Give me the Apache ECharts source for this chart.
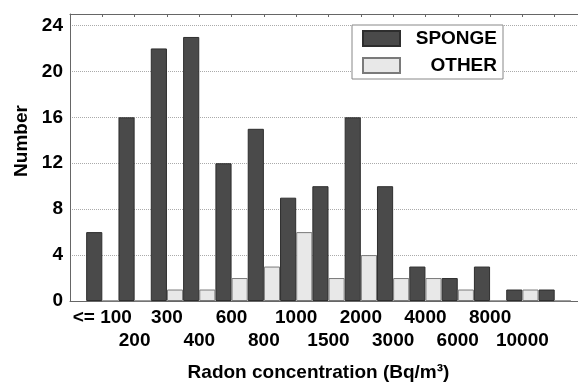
<!DOCTYPE html>
<html>
<head>
<meta charset="utf-8">
<script src="https://cdn.jsdelivr.net/npm/echarts@6/dist/echarts.min.js"></script>
<style>
  html, body { margin: 0; padding: 0; background: #fff; }
  #chart { width: 578px; height: 382px; }
</style>
</head>
<body>
<div id="chart"></div>
<script>
// Radon concentration classes (Bq/m³); blank slots pad the axis ends
// and the open-ended class above 10000.
const categories = ['', '<= 100', '200', '300', '400', '600', '800', '1000', '1500',
  '2000', '3000', '4000', '6000', '8000', '10000', '', ''];

// Counts per class, one entry per category slot (null = padding slot).
const sponge = [null, 6, 16, 22, 23, 12, 15, 9, 10, 16, 10, 3, 2, 3, 1, 1, null];
const other  = [null, 0, 0, 1, 1, 2, 3, 6, 2, 4, 2, 2, 1, 0, 1, 0, null];

const yTicks = { min: 0, max: 25, step: 4 };

const FONT = "'Liberation Sans', Arial, sans-serif";
const AXIS_GRAY = '#666';

const chart = echarts.init(document.getElementById('chart'), null, { renderer: 'canvas' });

chart.setOption({
  animation: false,
  backgroundColor: '#fff',
  textStyle: { fontFamily: FONT },
  grid: { left: 70, top: 14, right: -9, bottom: 81, outerBoundsMode: 'none', containLabel: false },
  legend: {
    data: ['SPONGE', 'OTHER'],
    orient: 'vertical',
    left: 352,
    top: 25,
    itemWidth: 37,
    itemHeight: 15,
    itemGap: 8,
    padding: [4, 6, 4, 10],
    backgroundColor: '#fff',
    borderColor: '#888',
    borderWidth: 1,
    borderRadius: 0,
    icon: 'rect',
    formatter: '{n|{name}}',
    textStyle: {
      rich: {
        n: {
          width: 92,
          align: 'right',
          fontFamily: FONT,
          fontWeight: 'bold',
          fontSize: 19,
          lineHeight: 19,
          color: '#000'
        }
      }
    }
  },
  xAxis: [
    {
      type: 'category',
      position: 'bottom',
      data: categories,
      boundaryGap: false,
      axisLine: { lineStyle: { color: AXIS_GRAY, width: 1 } },
      axisTick: { show: false },
      splitLine: { show: false },
      axisLabel: {
        interval: 0,
        margin: 5,
        color: '#000',
        fontFamily: FONT,
        fontWeight: 'bold',
        fontSize: 19,
        lineHeight: 23,
        // labels alternate between two rows
        formatter: (v, i) => (v === '' ? '' : (i % 2 === 1 ? v : '\n' + v))
      },
      name: 'Radon concentration (Bq/m³)',
      nameLocation: 'middle',
      nameGap: 62,
      nameTextStyle: {
        color: '#000',
        fontFamily: FONT,
        fontWeight: 'bold',
        fontSize: 19,
        padding: [0, 20, 0, 0]
      }
    },
    {
      type: 'category',
      position: 'top',
      data: categories,
      boundaryGap: false,
      axisLine: { lineStyle: { color: AXIS_GRAY, width: 1 } },
      axisTick: { show: true, inside: true, length: 3, interval: 0, lineStyle: { color: AXIS_GRAY } },
      axisLabel: { show: false },
      splitLine: { show: false }
    }
  ],
  yAxis: {
    type: 'value',
    min: yTicks.min,
    max: yTicks.max,
    interval: yTicks.step,
    axisLine: { show: true, lineStyle: { color: AXIS_GRAY, width: 1 } },
    axisTick: { show: false },
    splitLine: {
      show: true,
      lineStyle: { color: '#aaa', type: [1, 1], width: 1 }
    },
    axisLabel: {
      margin: 7,
      color: '#000',
      fontFamily: FONT,
      fontWeight: 'bold',
      fontSize: 19,
      formatter: v => (v % yTicks.step === 0 ? String(v) : '')
    },
    name: 'Number',
    nameLocation: 'middle',
    nameGap: 38,
    nameRotate: 90,
    nameTextStyle: {
      color: '#000',
      fontFamily: FONT,
      fontWeight: 'bold',
      fontSize: 19,
      padding: [0, 0, 0, 33]
    }
  },
  series: [
    {
      name: 'SPONGE',
      type: 'bar',
      xAxisIndex: 0,
      data: sponge,
      barWidth: '50%',
      barGap: '0%',
      itemStyle: { color: '#4a4a4a', borderColor: '#2e2e2e', borderWidth: 1 }
    },
    {
      name: 'OTHER',
      type: 'bar',
      xAxisIndex: 0,
      data: other,
      barWidth: '50%',
      barGap: '0%',
      itemStyle: { color: '#e8e8e8', borderColor: '#7a7a7a', borderWidth: 1 }
    }
  ]
});
</script>
</body>
</html>
